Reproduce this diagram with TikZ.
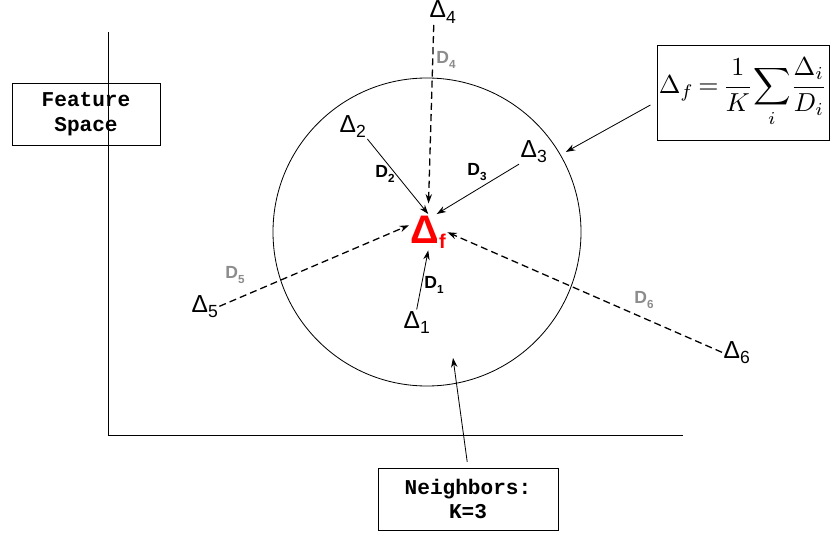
\documentclass[tikz,border=0pt]{standalone}
\usepackage{amsmath,amssymb}
\usepackage{fontspec}
\setmainfont{Liberation Sans}
\setmonofont{Liberation Mono}
\usetikzlibrary{arrows.meta}

\newcommand{\tri}[1]{Δ\raisebox{-0.22em}{\fontsize{15}{15}\selectfont #1}}
\newcommand{\dist}[1]{\textbf{D}\raisebox{-0.3em}{\fontsize{10}{10}\selectfont\bfseries #1}}

\begin{document}
\begin{tikzpicture}[x=0.03cm,y=-0.03cm,
        every node/.style={inner sep=1pt},
        pt/.style={font=\fontsize{21}{21}\selectfont,anchor=base west},
        lab/.style={font=\fontsize{15}{15}\selectfont},
        farlab/.style={lab,text=black!45},
        box/.style={draw,line width=0.7pt,align=center,font=\ttfamily\bfseries\fontsize{18}{21}\selectfont},
        near/.style={->,line width=0.7pt},
        farline/.style={->,line width=1.1pt,dash pattern=on 6pt off 3.5pt},
        >={Stealth[length=8pt,width=5.5pt]},line width=0.7pt
    ]
        \useasboundingbox (0,0) rectangle (831,535);

        % axes and neighbourhood
        \draw (108,32) |- (683,435);
        \node[circle,draw,minimum size=9.24cm,inner sep=0pt] (nbhd) at (427,232) {};

        % samples
        \node[pt] (p1) at (402,328) {\tri{1}};
        \node[pt] (p2) at (338,132) {\tri{2}};
        \node[pt] (p3) at (519,157) {\tri{3}};
        \node[pt] (p4) at (428,18) {\tri{4}};
        \node[pt] (p5) at (190,312) {\tri{5}};
        \node[pt] (p6) at (722,358) {\tri{6}};
        \node[anchor=base west,text=red,font=\bfseries\fontsize{34}{34}\selectfont] (pf) at (409,243) {Δ\raisebox{-5pt}{\fontsize{17}{17}\selectfont f}};

        \draw[near] (p1.north) -- (pf.south);
        \draw[near] (p2.south east) -- (pf.north);
        \draw[near] (p3.south west) -- (pf.65);
        \draw[farline,shorten >=9pt] (p4.-125) -- (pf.north);
        \draw[farline] (p5.east) -- (pf.160);
        \draw[farline] (p6.west) -- (pf.east);

        \node[lab] (d1) at (434,285) {\dist{1}};
        \node[lab] (d2) at (385,174) {\dist{2}};
        \node[lab] (d3) at (477,172) {\dist{3}};
        \node[farlab] (d4) at (446,60) {\dist{4}};
        \node[farlab] (d5) at (235,275) {\dist{5}};
        \node[farlab] (d6) at (644,300) {\dist{6}};

        % boxes
        \node[box,minimum width=4.44cm,minimum height=1.86cm] (space) at (86,114) {Feature\\Space};
        \node[box,minimum width=5.4cm,minimum height=1.86cm] (nbox) at (468,499) {Neighbors:\\K=3};
        \node[draw,line width=0.7pt,minimum width=5.16cm,minimum height=2.85cm,inner sep=0pt] (fbox) at (743,92.5)
            {\scalebox{2.22}{$\displaystyle \Delta_f\,{=}\,\frac{1}{K}\!\sum_i\!\frac{\Delta_i}{D_i}$}};

        \coordinate (inside) at (453,358);
        \draw[near,shorten <=6pt,shorten >=5pt] (fbox.-174) -- (nbhd.30);
        \draw[near,shorten <=5pt] (nbox.north) -- (inside);
    \end{tikzpicture}
\end{document}
